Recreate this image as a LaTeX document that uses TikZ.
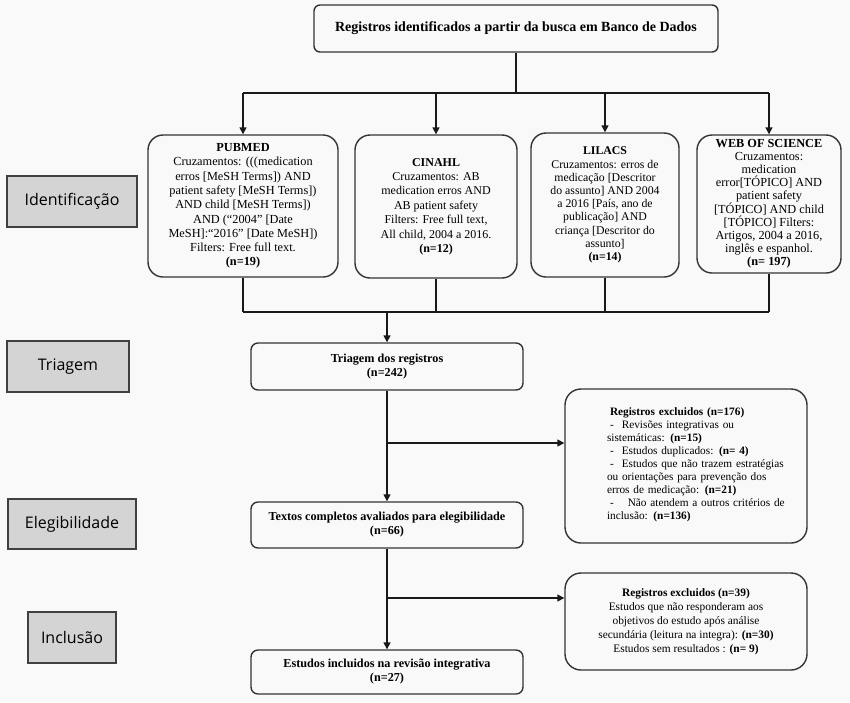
\documentclass[tikz,border=0pt]{standalone}
\usepackage{fontspec}
\setmainfont{Liberation Serif}
\newfontfamily\labelfont{Open Sans}
\usetikzlibrary{arrows.meta}
\definecolor{bgc}{RGB}{249,249,249}
\definecolor{lblfill}{RGB}{212,212,212}
\begin{document}
\begin{tikzpicture}[x=1pt,y=-1pt,
  conn/.style={line width=1.4pt, draw=black!90},
  arr/.style={conn, -{Triangle[width=7pt,length=7pt]}},
  boxbase/.style={draw=black!80, line width=1.4pt, inner sep=0pt, align=center},
  topbox/.style={boxbase, rounded corners=6pt, font=\fontsize{14}{16}\selectfont\bfseries},
  dbbox/.style={boxbase, rounded corners=15pt},
  flowbox/.style={boxbase, rounded corners=7pt, font=\fontsize{12.2}{14}\selectfont},
  exbox/.style={boxbase, rounded corners=16pt, font=\fontsize{11.4}{14}\selectfont},
  extext/.style={inner sep=0pt, align=left, text width=190pt, font=\fontsize{11.3}{13}\selectfont},
  lbl/.style={draw=black!75, line width=1.2pt, fill=lblfill, inner sep=0pt, font=\labelfont\fontsize{16}{18}\selectfont}
]
\fill[bgc] (0,0) rectangle (850,702);
\useasboundingbox (0,0) rectangle (850,702);

% top
\node[topbox, minimum width=404pt, minimum height=47pt] (top) at (516,28.5) {Registros identificados a partir da busca em Banco de Dados};

% database boxes
\node[dbbox, font=\fontsize{12.3}{14.3}\selectfont, minimum width=190pt, minimum height=142pt] (pub) at (243,206) {\textbf{PUBMED}\\Cruzamentos: (((medication\\erros [MeSH Terms]) AND\\patient safety [MeSH Terms])\\AND child [MeSH Terms])\\AND (“2004” [Date\\MeSH]:“2016” [Date MeSH])\\Filters: Free full text.\\\textbf{(n=19)}};
\node[dbbox, font=\fontsize{12}{14.4}\selectfont, minimum width=162pt, minimum height=143pt] (cin) at (436,206.5) {\textbf{CINAHL}\\Cruzamentos: AB\\medication erros AND\\AB patient safety\\Filters: Free full text,\\All child, 2004 a 2016.\\\textbf{(n=12)}};
\node[dbbox, font=\fontsize{11.8}{13.2}\selectfont, minimum width=148pt, minimum height=144pt] (lil) at (605,205) {\textbf{LILACS}\\Cruzamentos: erros de\\medicação [Descritor\\do assunto] AND 2004\\a 2016 [País, ano de\\publicação] AND\\criança [Descritor do\\assunto]\\\textbf{(n=14)}};
\node[dbbox, font=\fontsize{12.3}{13}\selectfont, minimum width=144pt, minimum height=138pt] (wos) at (769,204) {\textbf{WEB OF SCIENCE}\\Cruzamentos:\\medication\\error[TÓPICO] AND\\patient safety\\{}[TÓPICO] AND child\\{}[TÓPICO] Filters:\\Artigos, 2004 a 2016,\\inglês e espanhol.\\\textbf{(n= 197)}};

% flow boxes
\node[flowbox, minimum width=272pt, minimum height=47pt] (tri) at (387,366.5) {\textbf{Triagem dos registros}\\\textbf{(n=242)}};
\node[flowbox, minimum width=272pt, minimum height=46pt] (txt) at (387,525) {\textbf{Textos completos avaliados para elegibilidade}\\\textbf{(n=66)}};
\node[flowbox, minimum width=272pt, minimum height=44pt] (inc) at (387,672) {\textbf{Estudos incluidos na revisão integrativa}\\\textbf{(n=27)}};

% excluded boxes
\node[exbox, minimum width=242pt, minimum height=154pt] (ex1) at (686,466) {};
\node[extext] (ex1t) at (702,465) {\hspace{3pt}\textbf{Registros excluidos (n=176)}\\
\hspace{3pt}-\hspace{8pt}Revisões integrativas ou\\
sistemáticas: \textbf{(n=15)}\\
\hspace{3pt}-\hspace{8pt}Estudos duplicados: \textbf{(n= 4)}\\
\hspace{3pt}-\hspace{8pt}Estudos que não trazem estratégias\\
ou orientações para prevenção dos\\
erros de medicação: \textbf{(n=21)}\\
\hspace{3pt}-\hspace{14pt}Não atendem a outros critérios de\\
inclusão: \textbf{(n=136)}};
\node[exbox, minimum width=242pt, minimum height=97pt] (ex2) at (686,621.5) {\textbf{Registros excluidos (n=39)}\\Estudos que não responderam aos\\objetivos do estudo após análise\\secundária (leitura na integra): \textbf{(n=30)}\\Estudos sem resultados : \textbf{(n= 9)}};

% stage labels
\node[lbl, minimum width=130pt, minimum height=51pt] (l1) at (72,201.5) {Identificação};
\node[lbl, minimum width=122pt, minimum height=51pt] (l2) at (68,366.5) {Triagem};
\node[lbl, minimum width=128pt, minimum height=50pt] (l3) at (72,524) {Elegibilidade};
\node[lbl, minimum width=88pt, minimum height=51pt] (l4) at (72,637.5) {Inclusão};

% connectors top
\coordinate (j1) at (516,93);
\draw[conn] (top.south) -- (j1);
\draw[conn] (pub.north |- j1) -- (wos.north |- j1);
\draw[arr] (pub.north |- j1) -- (pub.north);
\draw[arr] (cin.north |- j1) -- (cin.north);
\draw[arr] (lil.north |- j1) -- (lil.north);
\draw[arr] (wos.north |- j1) -- (wos.north);

% connectors to triage
\coordinate (k) at (387,312);
\draw[conn] (pub.south) -- (pub.south |- k);
\draw[conn] (cin.south) -- (cin.south |- k);
\draw[conn] (lil.south) -- (lil.south |- k);
\draw[conn] (wos.south) -- (wos.south |- k);
\draw[conn] (pub.south |- k) -- (wos.south |- k);
\draw[arr] (k) -- (tri.north);

% flow
\coordinate (b1) at (387,443);
\coordinate (b2) at (387,598);
\draw[arr] (tri.south) -- (txt.north);
\draw[arr] (b1) -- (ex1.west |- b1);
\draw[arr] (txt.south) -- (inc.north);
\draw[arr] (b2) -- (ex2.west |- b2);
\end{tikzpicture}
\end{document}
